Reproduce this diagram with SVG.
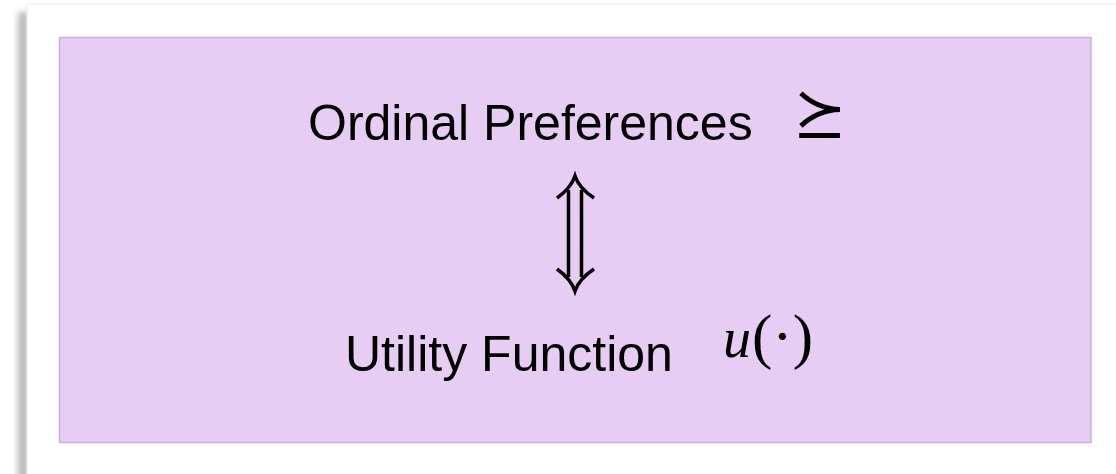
<svg xmlns="http://www.w3.org/2000/svg" width="1116" height="474" viewBox="0 0 1116 474">
  <defs>
    <filter id="blur" x="-50%" y="-10%" width="200%" height="120%">
      <feGaussianBlur stdDeviation="3"/>
    </filter>
    <style>
      .label { font-family: "Liberation Sans", Arial, Helvetica, sans-serif; font-size: 50px; fill: #000; }
      .sym { font-family: "DejaVu Math TeX Gyre", "DejaVu Sans", serif; fill: #000; }
      .math { font-family: "Liberation Serif", "Times New Roman", serif; fill: #000; }
      .arrow { fill: none; stroke: #000; stroke-width: 3.5; stroke-linecap: butt; }
      .panel { fill: #e7ccf3; stroke: #c9b0d6; stroke-width: 1.5; }
    </style>
  </defs>
  <rect x="0" y="0" width="1116" height="474" fill="#ffffff"/>
  <rect x="18" y="12" width="10" height="480" fill="#b8b8b8" filter="url(#blur)"/>
  <rect x="27" y="4" width="1100" height="480" fill="#ffffff" stroke="#ececec" stroke-width="1"/>
  <rect x="59.5" y="37.5" width="1031.5" height="405" class="panel"/>

  <g id="node-preferences">
    <text class="label" x="308" y="140">Ordinal Preferences</text>
    <text class="sym" x="819.5" y="132" font-size="62" text-anchor="middle">⪰</text>
  </g>

  <g id="node-utility">
    <text class="label" x="345" y="371">Utility Function</text>
    <text class="math" x="723" y="357" font-size="56"><tspan font-style="italic">u</tspan><tspan font-size="61" dx="1">(·)</tspan></text>
  </g>

  <g id="connectors">
    <path class="arrow" d="M568.5 190 V277 M581.5 190 V277"/>
    <path class="arrow" d="M557 198 Q571 188 575 176 Q579 188 594 198"/>
    <path class="arrow" d="M557 269 Q571 279 575 291 Q579 279 594 269"/>
  </g>
</svg>
